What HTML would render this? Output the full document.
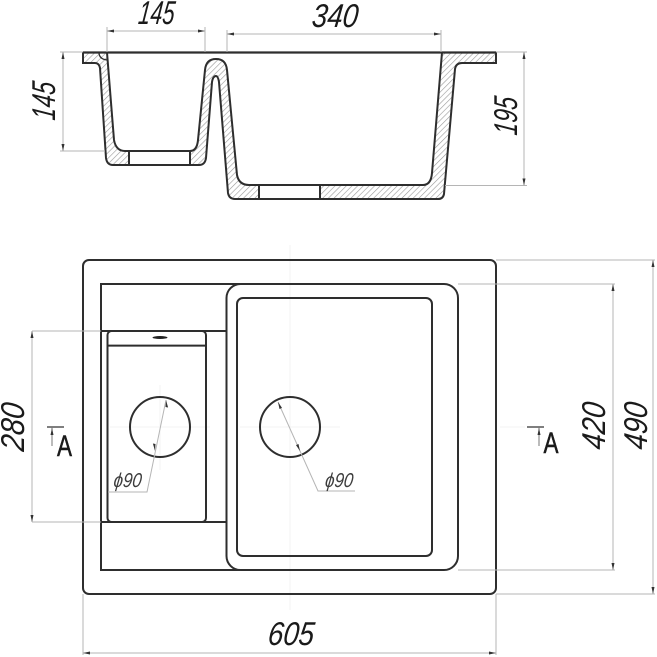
<!DOCTYPE html>
<html>
<head>
<meta charset="utf-8">
<style>
html,body{margin:0;padding:0;background:#fff;width:657px;height:657px;overflow:hidden}
svg{display:block}
text{font-family:"Liberation Sans",sans-serif;font-style:italic;fill:#1a1a1a}
.d{fill:none;stroke:#b5b5b5;stroke-width:1}
.c{fill:none;stroke:#f3f3f3;stroke-width:1}
.m{fill:none;stroke:#2e2e2e;stroke-width:2}
.a{fill:#333;stroke:none}
</style>
</head>
<body>
<svg width="657" height="657" viewBox="0 0 657 657" xmlns="http://www.w3.org/2000/svg">
<defs>
<pattern id="h" width="4" height="4" patternUnits="userSpaceOnUse" patternTransform="rotate(45)">
<rect width="4" height="4" fill="#fff"/>
<line x1="0" y1="0" x2="0" y2="4" stroke="#999" stroke-width="1.2"/>
</pattern>
</defs>
<rect width="657" height="657" fill="#fff"/>

<!-- centre lines -->
<path class="c" d="M290 245V610M160 385V470M240 427H340M110 427H210M500 427H525"/>

<!-- section view -->
<path class="m" style="fill:url(#h)" d="M83 52.5L107 52.5L114 140Q116 151 125 151L190 151Q197 151 198 140L205 70Q206 59 216 59Q226 59 227 70L237 175Q239 185 249 185L423 185Q431 185 432 173L442 52.5L496 52.5L496 63L462 63Q456 63 455 69L444 194Q443 199 438 199L235 199Q229 199 228 193L219 82Q218 76 216 76Q213 76 212 82L206 158Q205 165 199 165L113 165Q107 165 106 158L100 68Q99 63 95 63L83 63Z"/>
<rect x="129" y="151" width="61" height="14" class="m" style="fill:#fff"/>
<rect x="259" y="185" width="61" height="14" class="m" style="fill:#fff"/>
<path class="m" d="M83 52.5H496" style="stroke-width:2.2"/>
<path class="m" d="M99 52.5Q99 59 107 60" style="stroke-width:1.3"/>

<!-- section dimensions -->
<path class="d" d="M107 27V52M205 27V52M107 31H205M227 30V52M441 30V52M227 34H441"/>
<path class="d" d="M60 52H83M60 151H105M63 52V151"/>
<path class="d" d="M496 52H527M445 185.5H527M524 52V185.5"/>
<path class="a" d="M107 31l7-1.5v3zM205 31l-7-1.5v3zM227 34l7-1.5v3zM441 34l-7-1.5v3zM63 52l-1.5 7h3zM63 151l-1.5-7h3zM524 52l-1.5 7h3zM524 185.5l-1.5-7h3z"/>

<!-- plan view -->
<rect class="m" x="83" y="260" width="413" height="334" rx="6"/>
<path class="m" d="M240 284H101V570H240"/>
<rect class="m" x="226.500" y="284" width="231.500" height="286" rx="14"/>
<rect class="m" x="237" y="298" width="195" height="258" rx="6"/>
<path class="m" d="M101 331H226.500M101 522H226.500"/>
<rect class="m" x="107.500" y="331" width="98.500" height="191" rx="4"/>
<path class="m" d="M107.500 345.600H206"/>
<ellipse cx="160" cy="337.500" rx="7.500" ry="1.500" fill="#222"/>
<circle class="m" cx="160" cy="427" r="30"/>
<circle class="m" cx="290" cy="427" r="30"/>

<!-- leaders -->
<path class="d" d="M166 400L147 492H108"/>
<path class="d" d="M278 402L318 491H355"/>
<path class="a" d="M166 400l-.5 7 2.600.5zM155 451l.5-7-2.600-.5zM278 402l1.500 7 2.500-1.100zM300 451l-1.500-7-2.500 1.100z"/>

<!-- plan dimensions -->
<path class="d" d="M32 331H101M32 522H101M32 331V522"/>
<path class="d" d="M458 284H615M458 570H615M613 284V570"/>
<path class="d" d="M496 260H655M496 594H655M653 260V594"/>
<path class="d" d="M83 594V655M496 594V655M83 653H496"/>
<path class="a" d="M32 331l-1.500 7h3zM32 522l-1.500-7h3zM613 284l-1.500 7h3zM613 570l-1.500-7h3zM653 260l-1.500 7h3zM653 594l-1.500-7h3zM83 653l7-1.500v3zM496 653l-7-1.500v3z"/>

<!-- section marks -->
<path d="M47 427H64M527 427H544" stroke="#333" stroke-width="1.2" fill="none"/>
<path d="M52 427V446M539 427V446" stroke="#777" stroke-width="1" fill="none"/>
<path class="a" d="M52 428l-1.500 7h3zM539 428l-1.500 7h3z"/>

<!-- labels -->
<text transform="translate(155.500 24) skewX(-7)" font-size="33" text-anchor="middle" textLength="36" lengthAdjust="spacingAndGlyphs">145</text>
<text transform="translate(334 27) skewX(-7)" font-size="33" text-anchor="middle" textLength="46" lengthAdjust="spacingAndGlyphs">340</text>
<text transform="translate(290 645) skewX(-7)" font-size="33" text-anchor="middle" textLength="46" lengthAdjust="spacingAndGlyphs">605</text>
<text transform="translate(55 102) rotate(-90) skewX(-7)" font-size="33" text-anchor="middle" textLength="38" lengthAdjust="spacingAndGlyphs">145</text>
<text transform="translate(517 117) rotate(-90) skewX(-7)" font-size="33" text-anchor="middle" textLength="38" lengthAdjust="spacingAndGlyphs">195</text>
<text transform="translate(24 428) rotate(-90) skewX(-7)" font-size="33" text-anchor="middle" textLength="48" lengthAdjust="spacingAndGlyphs">280</text>
<text transform="translate(605 427) rotate(-90) skewX(-7)" font-size="33" text-anchor="middle" textLength="47" lengthAdjust="spacingAndGlyphs">420</text>
<text transform="translate(647 427) rotate(-90) skewX(-7)" font-size="33" text-anchor="middle" textLength="47" lengthAdjust="spacingAndGlyphs">490</text>
<text transform="translate(127 487) skewX(-7)" font-size="20" text-anchor="middle" textLength="28" lengthAdjust="spacingAndGlyphs" fill-opacity=".85">ϕ90</text>
<text transform="translate(338.500 487) skewX(-7)" font-size="20" text-anchor="middle" textLength="28" lengthAdjust="spacingAndGlyphs" fill-opacity=".85">ϕ90</text>
<text x="64.500" y="456" font-size="30" text-anchor="middle" textLength="15" lengthAdjust="spacingAndGlyphs" style="font-style:normal;stroke:#1a1a1a;stroke-width:.5">A</text>
<text x="551" y="453" font-size="30" text-anchor="middle" textLength="15" lengthAdjust="spacingAndGlyphs" style="font-style:normal;stroke:#1a1a1a;stroke-width:.5">A</text>
</svg>
</body>
</html>
